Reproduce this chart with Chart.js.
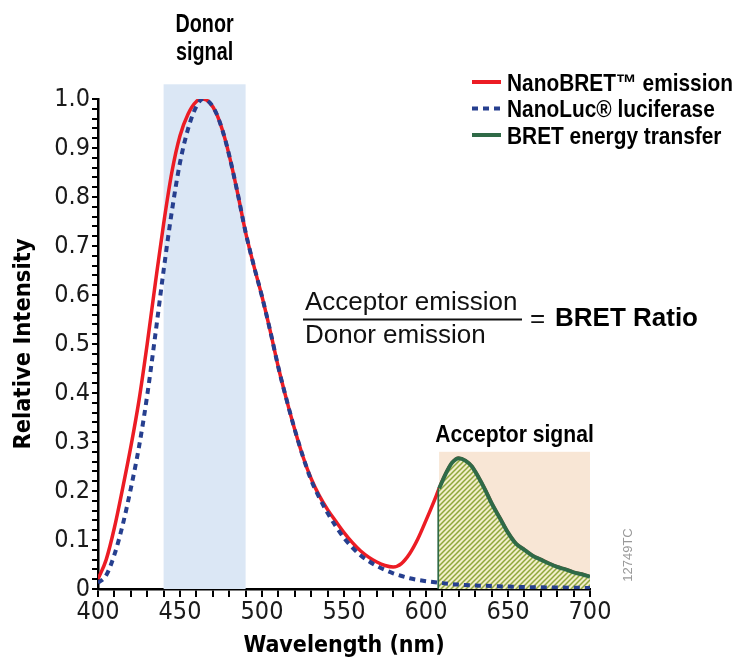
<!DOCTYPE html>
<html>
<head>
<meta charset="utf-8">
<script src="https://cdn.jsdelivr.net/npm/chart.js@4.4.1/dist/chart.umd.min.js"></script>
<style>
  html, body { margin: 0; padding: 0; background: #fff; }
  #wrap { width: 738px; height: 662px; position: relative; }
</style>
</head>
<body>
<div id="wrap"><canvas id="bretChart"></canvas></div>
<script>
// NanoBRET emission (red), whole spectrum
const nanoBretWl = [400, 405, 410, 415, 420, 425, 430, 435, 440, 445, 450, 455, 460, 464, 468, 472, 476, 480, 485, 490,
    495, 500, 505, 510, 515, 520, 525, 530, 535, 540, 545, 550, 555, 560, 565, 570, 575, 580, 585, 590,
    595, 600, 605, 608, 612, 616, 620, 624, 628, 632, 636, 640, 645, 650, 655, 660, 665, 670, 675, 680,
    685, 690, 695, 700];
const nanoBretVals = [0.02, 0.06, 0.125, 0.205, 0.29, 0.385, 0.50, 0.625, 0.745, 0.85, 0.925, 0.97, 0.995, 1.0, 0.993, 0.972, 0.935, 0.885, 0.81, 0.728,
    0.66, 0.597, 0.527, 0.452, 0.386, 0.325, 0.27, 0.225, 0.19, 0.162, 0.138, 0.115, 0.095, 0.078, 0.065, 0.055, 0.048, 0.045, 0.052, 0.072,
    0.102, 0.14, 0.18, 0.205, 0.235, 0.258, 0.267, 0.262, 0.25, 0.228, 0.203, 0.175, 0.145, 0.115, 0.092, 0.08, 0.068, 0.06, 0.052, 0.045,
    0.04, 0.034, 0.03, 0.025];

// NanoLuc luciferase (blue dotted)
const nanoLucWl = [400, 405, 410, 415, 420, 425, 430, 435, 440, 445, 450, 455, 460, 464, 468, 472, 476, 480, 485, 490,
    495, 500, 505, 510, 515, 520, 525, 530, 535, 540, 545, 550, 555, 560, 565, 570, 575, 580, 590, 600,
    610, 620, 640, 660, 680, 700];
const nanoLucVals = [0.012, 0.028, 0.07, 0.13, 0.205, 0.29, 0.395, 0.52, 0.65, 0.77, 0.87, 0.94, 0.985, 1.0, 0.993, 0.972, 0.935, 0.885, 0.81, 0.728,
    0.66, 0.597, 0.527, 0.452, 0.386, 0.325, 0.27, 0.222, 0.186, 0.155, 0.128, 0.104, 0.085, 0.069, 0.057, 0.047, 0.039, 0.032, 0.022, 0.016,
    0.012, 0.009, 0.006, 0.004, 0.003, 0.002];

// BRET energy transfer (green, hatched area)
const bretWl = [608, 612, 616, 620, 624, 628, 632, 636, 640, 645, 650, 655, 660, 665, 670, 675, 680, 685, 690, 695, 700];
const bretVals = [0.205, 0.235, 0.258, 0.267, 0.262, 0.25, 0.228, 0.203, 0.175, 0.145, 0.115, 0.092, 0.08, 0.068, 0.06, 0.052, 0.045, 0.04, 0.034, 0.03, 0.025];

// signal windows [from nm, to nm, top]
const donorBand = [440, 490, 1.03];
const acceptorBand = [608, 700, 0.28];

const NARROW = '"Liberation Sans Narrow", "DejaVu Sans Condensed", sans-serif';
const REGULAR = '"Liberation Sans", Arial, sans-serif';

function toPoints(xs, ys) {
    return xs.map((x, i) => ({ x: x, y: ys[i] }));
}

function makeHatch(ctx) {
    const c = document.createElement('canvas');
    c.width = 5; c.height = 5;
    const g = c.getContext('2d');
    g.fillStyle = '#f2eecb';
    g.fillRect(0, 0, 5, 5);
    g.strokeStyle = '#8fa63c';
    g.lineWidth = 1.5;
    g.beginPath();
    g.moveTo(0, 5); g.lineTo(5, 0);
    g.moveTo(-1, 1); g.lineTo(1, -1);
    g.moveTo(4, 6); g.lineTo(6, 4);
    g.stroke();
    return ctx.createPattern(c, 'repeat');
}

// draws text squeezed horizontally by sx (the original uses a condensed face)
function squeezedText(ctx, text, x, y, sx, align) {
    ctx.save();
    ctx.translate(x, y);
    ctx.scale(sx, 1);
    ctx.textAlign = align;
    ctx.fillText(text, 0, 0);
    ctx.restore();
}

const bandsPlugin = {
    id: 'bands',
    beforeDatasetsDraw(chart) {
        const { ctx, scales: { x, y } } = chart;
        const y0 = y.getPixelForValue(0);
        ctx.save();
        ctx.fillStyle = '#dbe7f5';
        let x0 = x.getPixelForValue(donorBand[0]), x1 = x.getPixelForValue(donorBand[1]);
        let top = y.getPixelForValue(donorBand[2]);
        ctx.fillRect(x0, top, x1 - x0, y0 - top);
        ctx.fillStyle = '#f8e6d5';
        x0 = x.getPixelForValue(acceptorBand[0]); x1 = x.getPixelForValue(acceptorBand[1]);
        top = y.getPixelForValue(acceptorBand[2]);
        ctx.fillRect(x0, top, x1 - x0, y0 - top);
        ctx.restore();
    }
};

const textPlugin = {
    id: 'texts',
    afterDraw(chart) {
        const { ctx, scales: { x, y } } = chart;
        ctx.save();
        ctx.fillStyle = '#000';
        ctx.textBaseline = 'alphabetic';

        // Donor / Acceptor labels
        ctx.font = 'bold 25px ' + REGULAR;
        const dcx = (x.getPixelForValue(donorBand[0]) + x.getPixelForValue(donorBand[1])) / 2;
        squeezedText(ctx, 'Donor', dcx, 32, 0.79, 'center');
        squeezedText(ctx, 'signal', dcx, 60, 0.79, 'center');
        ctx.font = 'bold 24px ' + REGULAR;
        const acx = (x.getPixelForValue(acceptorBand[0]) + x.getPixelForValue(acceptorBand[1])) / 2;
        squeezedText(ctx, 'Acceptor signal', acx, y.getPixelForValue(acceptorBand[2]) - 10, 0.88, 'center');

        // formula
        ctx.textAlign = 'left';
        ctx.font = '26px ' + REGULAR;
        ctx.fillStyle = '#111';
        ctx.fillText('Acceptor emission', 305, 310);
        ctx.fillText('Donor emission', 305, 343);
        ctx.fillRect(303, 318.5, 219, 2);
        ctx.fillText('=', 530, 327);
        ctx.font = 'bold 26px ' + REGULAR;
        ctx.fillStyle = '#000';
        ctx.fillText('BRET Ratio', 555, 326);

        // legend
        const rows = [chart.data.datasets[3], chart.data.datasets[0], chart.data.datasets[1]];
        ctx.font = 'bold 24px ' + REGULAR;
        const sx = 226 / ctx.measureText(rows[0].label).width;
        rows.forEach((ds, i) => {
            const ly = 82 + i * 26.5;
            ctx.beginPath();
            ctx.strokeStyle = ds.borderColor;
            ctx.lineWidth = 4;
            ctx.setLineDash(ds.borderDash || []);
            ctx.moveTo(472, ly);
            ctx.lineTo(501, ly);
            ctx.stroke();
            ctx.setLineDash([]);
            ctx.fillStyle = '#000';
            squeezedText(ctx, ds.label, 507, ly + 8.5, sx, 'left');
        });

        // figure code
        ctx.translate(628, 555);
        ctx.rotate(-Math.PI / 2);
        ctx.textAlign = 'center';
        ctx.textBaseline = 'middle';
        ctx.font = '13px ' + REGULAR;
        ctx.fillStyle = '#999';
        ctx.fillText('12749TC', 0, 0);
        ctx.restore();
    }
};

const ctx = document.getElementById('bretChart').getContext('2d');

new Chart(ctx, {
    type: 'line',
    data: {
        datasets: [
            {
                label: 'NanoLuc® luciferase',
                data: toPoints(nanoLucWl, nanoLucVals),
                borderColor: '#263f8f',
                borderWidth: 4,
                borderDash: [6, 5],
                pointRadius: 0,
                fill: false,
                cubicInterpolationMode: 'monotone',
                order: 0
            },
            {
                label: 'BRET energy transfer',
                data: toPoints(bretWl, bretVals),
                borderColor: '#2f6a47',
                backgroundColor: makeHatch(ctx),
                borderWidth: 4,
                pointRadius: 0,
                fill: 'origin',
                cubicInterpolationMode: 'monotone',
                order: 1
            },
            {
                label: 'edge',
                data: [{ x: bretWl[0], y: 0 }, { x: bretWl[0], y: bretVals[0] }],
                borderColor: '#2f6a47',
                borderWidth: 3.5,
                pointRadius: 0,
                fill: false,
                order: 1
            },
            {
                label: 'NanoBRET™ emission',
                data: toPoints(nanoBretWl, nanoBretVals),
                borderColor: '#ec1c24',
                borderWidth: 3.5,
                pointRadius: 0,
                fill: false,
                cubicInterpolationMode: 'monotone',
                order: 2
            }
        ]
    },
    options: {
        responsive: true,
        maintainAspectRatio: false,
        animation: false,
        layout: { padding: { top: 99, right: 148, left: 0, bottom: 0 } },
        plugins: {
            legend: { display: false },
            tooltip: { enabled: false }
        },
        scales: {
            x: {
                type: 'linear',
                min: 400,
                max: 700,
                afterFit: function (scale) { scale.height = 73; },
                ticks: {
                    stepSize: 10,
                    autoSkip: false,
                    maxRotation: 0,
                    padding: 0,
                    color: '#1a1a1a',
                    font: { family: NARROW, size: 25 },
                    callback: function (v) { return v % 50 === 0 ? String(v) : ''; }
                },
                grid: { drawOnChartArea: false, drawTicks: true, tickLength: 8, color: '#000', lineWidth: 2 },
                border: { display: true, color: '#000', width: 2.5 },
                title: {
                    display: true,
                    text: 'Wavelength (nm)',
                    color: '#000',
                    font: { family: NARROW, size: 23, weight: 'bold' },
                    padding: { top: 0, bottom: 2 }
                }
            },
            y: {
                min: 0,
                max: 1,
                afterFit: function (scale) { scale.width = 98; },
                ticks: {
                    stepSize: 0.02,
                    autoSkip: false,
                    padding: 2,
                    color: '#1a1a1a',
                    font: { family: NARROW, size: 25 },
                    callback: function (v) {
                        const h = Math.round(v * 100);
                        if (h % 10 !== 0) return '';
                        return h === 0 ? '0' : (h / 100).toFixed(1);
                    }
                },
                grid: { drawOnChartArea: false, drawTicks: true, tickLength: 6, color: '#000', lineWidth: 2 },
                border: { display: true, color: '#000', width: 2.5 },
                title: {
                    display: true,
                    text: 'Relative Intensity',
                    color: '#000',
                    font: { family: NARROW, size: 23.5, weight: 'bold' },
                    padding: { top: 10, bottom: 0 }
                }
            }
        }
    },
    plugins: [bandsPlugin, textPlugin]
});
</script>
</body>
</html>
